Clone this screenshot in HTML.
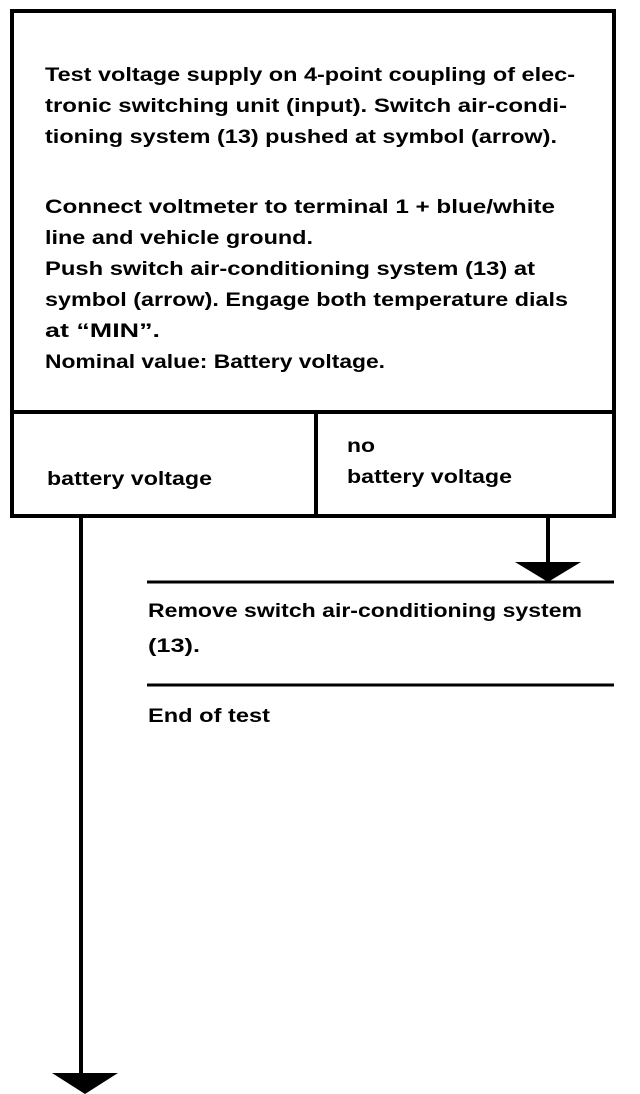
<!DOCTYPE html>
<html><head><meta charset="utf-8"><style>
html,body{margin:0;padding:0;background:#fff;width:640px;height:1094px;overflow:hidden}
svg{display:block}
text{font-family:"Liberation Sans",Arial,sans-serif;font-weight:bold;font-size:19px;fill:#000}
</style></head><body>
<svg width="640" height="1094" viewBox="0 0 640 1094" xmlns="http://www.w3.org/2000/svg">
<g stroke="#000" fill="none" stroke-width="4">
<rect x="12" y="11" width="602" height="505"/>
<line x1="12" y1="412" x2="614" y2="412"/>
<line x1="316" y1="412" x2="316" y2="516"/>
<line x1="81" y1="516" x2="81" y2="1076"/>
<line x1="548" y1="516" x2="548" y2="565"/>
<line x1="147" y1="582" x2="614" y2="582" stroke-width="3"/>
<line x1="147" y1="685" x2="614" y2="685" stroke-width="3"/>
</g>
<polygon points="515,562 581,562 548,582" fill="#000"/>
<polygon points="52,1073 118,1073 85,1094" fill="#000"/>
<text x="45" y="81" textLength="530" lengthAdjust="spacingAndGlyphs">Test voltage supply on 4-point coupling of elec-</text>
<text x="45" y="112" textLength="522" lengthAdjust="spacingAndGlyphs">tronic switching unit (input). Switch air-condi-</text>
<text x="45" y="143" textLength="512" lengthAdjust="spacingAndGlyphs">tioning system (13) pushed at symbol (arrow).</text>
<text x="45" y="213" textLength="510" lengthAdjust="spacingAndGlyphs">Connect voltmeter to terminal 1 + blue/white</text>
<text x="45" y="244" textLength="268" lengthAdjust="spacingAndGlyphs">line and vehicle ground.</text>
<text x="45" y="275" textLength="490" lengthAdjust="spacingAndGlyphs">Push switch air-conditioning system (13) at</text>
<text x="45" y="306" textLength="523" lengthAdjust="spacingAndGlyphs">symbol (arrow). Engage both temperature dials</text>
<text x="45" y="337" textLength="115" lengthAdjust="spacingAndGlyphs">at “MIN”.</text>
<text x="45" y="368" textLength="340" lengthAdjust="spacingAndGlyphs">Nominal value: Battery voltage.</text>
<text x="347" y="452" textLength="28" lengthAdjust="spacingAndGlyphs">no</text>
<text x="47" y="485" textLength="165" lengthAdjust="spacingAndGlyphs">battery voltage</text>
<text x="347" y="483" textLength="165" lengthAdjust="spacingAndGlyphs">battery voltage</text>
<text x="148" y="617" textLength="434" lengthAdjust="spacingAndGlyphs">Remove switch air-conditioning system</text>
<text x="148" y="652" textLength="52" lengthAdjust="spacingAndGlyphs">(13).</text>
<text x="148" y="722" textLength="122" lengthAdjust="spacingAndGlyphs">End of test</text>
</svg>
</body></html>
